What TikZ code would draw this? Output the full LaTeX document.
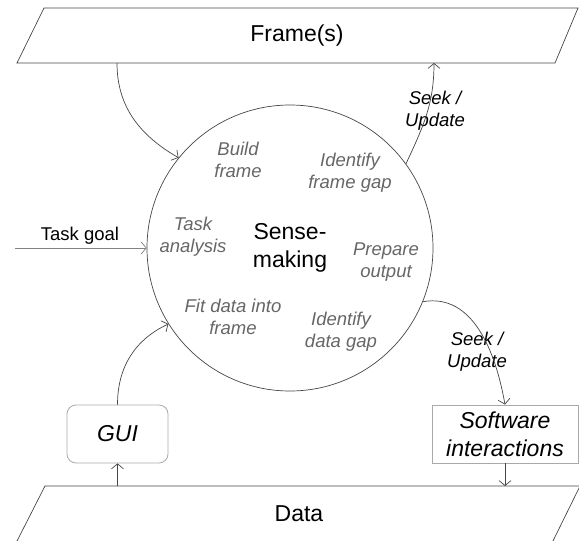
\documentclass[tikz,border=0pt]{standalone}
\usepackage{fontspec}
\setmainfont{Liberation Sans}
\usetikzlibrary{arrows.meta}
\definecolor{linegray}{RGB}{70,70,70}
\definecolor{lightline}{RGB}{130,130,130}
\definecolor{boxgray}{RGB}{170,170,170}
\definecolor{textgray}{RGB}{102,102,102}
\newcommand{\bigfont}{\fontsize{23}{28}\selectfont}
\newcommand{\midfont}{\fontsize{18.5}{22}\selectfont}
\tikzset{
    activity/.style={font=\midfont\itshape, text=textgray, align=center, inner sep=0pt},
    seeklabel/.style={font=\midfont\itshape, align=center, inner sep=0pt},
    box/.style={draw=boxgray, line width=0.8pt, minimum width=#1, minimum height=58pt, font=\bigfont\itshape, align=center, inner sep=0pt},
    link/.style={draw=linegray, line width=0.7pt, ->},
}

\begin{document}
\begin{tikzpicture}[x=1pt, y=-1pt, >={Straight Barb[length=5pt,width=12pt]}]
    \useasboundingbox (0,0) rectangle (579,541);
    \draw[linegray, line width=0.7pt] (44,8) -- (578,8) -- (555,63) -- (17,63) -- cycle;
    \draw[linegray, line width=0.7pt] (17,541) -- (45,486) -- (580,486) -- (553,541);
    \node[font=\bigfont] (frames) at (297,36) {Frame(s)};
    \node[font=\bigfont] (data) at (299,514) {Data};
    \coordinate (frames-out) at (117,63);
    \coordinate (frames-in) at (434,63);
    \coordinate (data-out) at (117.5,486);
    \coordinate (data-in) at (505,486);
    \coordinate (goal-start) at (15,248);

    \node[circle, draw=linegray, line width=0.7pt, minimum size=286pt, inner sep=0pt, font=\bigfont, align=center] (sm) at (290,248) {Sense-\\making};
    \node[activity] (build) at (238,160) {Build\\frame};
    \node[activity] (framegap) at (350,173) {Identify\\frame gap};
    \node[activity] (task) at (193,237) {Task\\analysis};
    \node[activity] (prepare) at (386,262) {Prepare\\output};
    \node[activity] (fit) at (233,317) {Fit data into\\frame};
    \node[activity] (datagap) at (341,332) {Identify\\data gap};

    \node[box=101pt, rounded corners=9pt] (gui) at (117.5,434) {GUI};
    \node[box=146pt] (soft) at (505,434) {Software\\interactions};

    \node[font=\midfont] (goal) at (80,236) {Task goal};
    \node[seeklabel] (seek-top) at (435,111) {Seek /\\Update};
    \node[seeklabel] (seek-bottom) at (477,352) {Seek /\\Update};

    \draw[link] (frames-out) to[out=-90, in=150] (sm.141);
    \draw[link] (sm.36) to[out=65, in=-90] (frames-in);
    \draw[link, draw=lightline] (goal-start) -- (sm.west);
    \draw[link] (sm.-22) to[out=10, in=100] (soft.north);
    \draw[link] (soft.south) -- (data-in);
    \draw[link] (data-out) -- (gui.south);
    \draw[link] (gui.north) to[out=90, in=205] (sm.212);
\end{tikzpicture}
\end{document}
